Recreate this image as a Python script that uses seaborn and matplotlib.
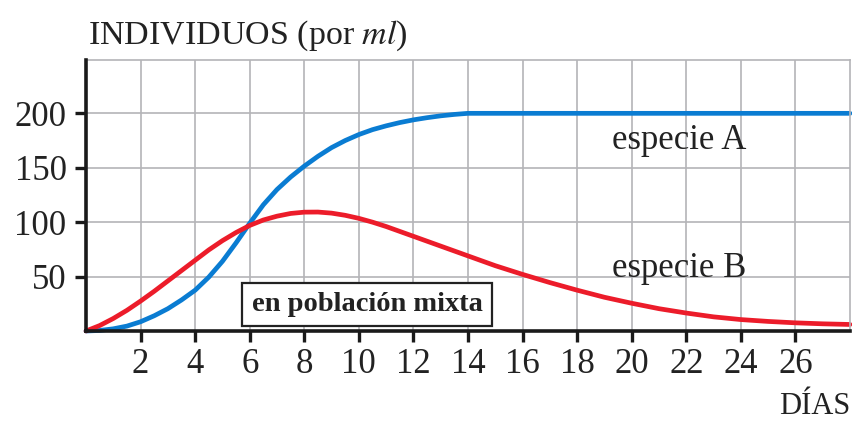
import matplotlib
matplotlib.use("Agg")
import matplotlib.pyplot as plt
import seaborn as sns
import pandas as pd

# valores (medio dia hasta el dia 14, luego diario)
days = [0, 0.5, 1, 1.5, 2, 2.5, 3, 3.5, 4, 4.5, 5, 5.5, 6, 6.5, 7, 7.5, 8, 8.5, 9, 9.5,
        10, 10.5, 11, 11.5, 12, 12.5, 13, 13.5, 14,
        15, 16, 17, 18, 19, 20, 21, 22, 23, 24, 25, 26, 27, 28]
especie_a = [0, 0.5, 2, 4.5, 8.5, 14, 20.5, 28.5, 37.5, 49.5, 64, 81, 99, 116, 130, 141.5, 151.5, 160.5, 168.5, 175,
             180.5, 185, 188.5, 191.5, 194, 196, 197.7, 199, 200,
             200, 200, 200, 200, 200, 200, 200, 200, 200, 200, 200, 200, 200, 200]
especie_b = [0, 5, 11.5, 19, 27.5, 36.5, 46, 55.5, 65, 74.5, 83, 90.5, 97, 102, 105.5, 108, 109.2, 109.3, 108.3, 106.3,
             103.5, 100, 96, 91.5, 87, 82.5, 78, 73.5, 69,
             60, 52, 44.5, 37.5, 31, 25.5, 20.5, 16.5, 13, 10.5, 8.8, 7.5, 6.6, 6]
x_ticks = list(range(2, 27, 2))
y_ticks = [50, 100, 150, 200]

df = pd.DataFrame({"dias": days, "A": especie_a, "B": especie_b})

sns.set_style("white")
plt.rcParams["font.family"] = ["Liberation Serif", "DejaVu Serif"]
plt.rcParams["mathtext.fontset"] = "stix"

fig = plt.figure(figsize=(8.52, 4.21), dpi=100)
ax = fig.add_axes([86 / 852, 1 - 331 / 421, (850 - 86) / 852, (331 - 60) / 421])

sns.lineplot(data=df, x="dias", y="A", color="#0a7cd2", linewidth=3.4, ax=ax, clip_on=False)
sns.lineplot(data=df, x="dias", y="B", color="#ec1c2a", linewidth=3.4, ax=ax, clip_on=False)

ax.set_xlim(0, 28)
ax.set_ylim(0, 249)
ax.set_xticks(x_ticks)
ax.set_yticks(y_ticks)
ax.set_xlabel("")
ax.set_ylabel("")
ax.grid(True, color="#b4b4b8", linewidth=1.2)
ax.set_axisbelow(True)

for s in ["top", "right"]:
    ax.spines[s].set_color("#b4b4b8")
    ax.spines[s].set_linewidth(1.2)
for s in ["left", "bottom"]:
    ax.spines[s].set_color("#1a1a1a")
    ax.spines[s].set_linewidth(2.6)
    ax.spines[s].set_zorder(5)

ax.tick_params(axis="both", direction="out", length=8, width=2.4, color="#1a1a1a",
               labelsize=25, labelcolor="#222222", pad=6)
ax.tick_params(axis="x", bottom=True, pad=4)
ax.tick_params(axis="y", left=True, pad=6)

ax.text(21.75, 175, "especie A", fontsize=25, color="#222222", ha="center", va="center")
ax.text(21.75, 57, "especie B", fontsize=25, color="#222222", ha="center", va="center")
ax.text(10.3, 24.5, "en población mixta", fontsize=20.5, fontweight="bold", color="#222222",
        ha="center", va="center",
        bbox=dict(boxstyle="square,pad=0.32", facecolor="white", edgecolor="#222222", linewidth=1.6))

fig.text(88 / 852, 1 - 36 / 421, "INDIVIDUOS (por $\\mathit{ml}$)", fontsize=24.5,
         color="#222222", ha="left", va="center")
fig.text(850 / 852, 1 - 407 / 421, "DÍAS", fontsize=22, color="#222222", ha="right", va="center")

fig.savefig("out.png", dpi=100)
